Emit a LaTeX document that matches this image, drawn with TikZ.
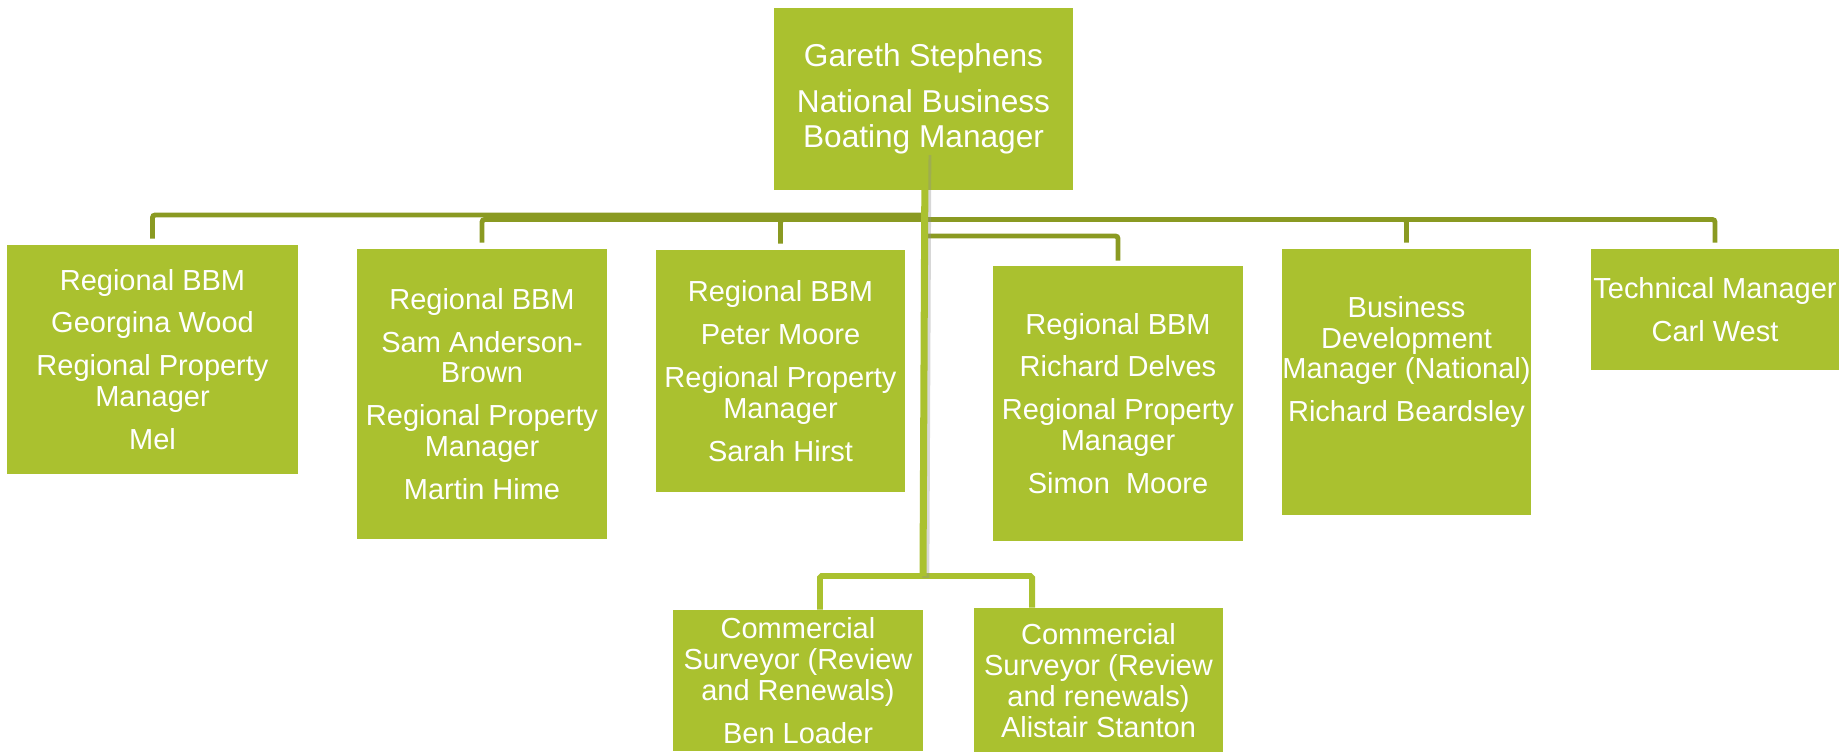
\documentclass[tikz,border=0pt]{standalone}
\usepackage{fontspec}
\setmainfont{Liberation Sans}
\usetikzlibrary{calc}
\definecolor{boxgreen}{HTML}{AAC12F}
\definecolor{bargreen}{HTML}{8A9A22}
\definecolor{shade}{HTML}{8C8C8C}
\newcommand{\boxfont}{\fontsize{16.5}{17.6}\selectfont}
\newcommand{\headfont}{\fontsize{18}{19.8}\selectfont}
\tikzset{
  box/.style={fill=boxgreen, text=white, align=center, inner sep=0pt, font=\boxfont},
  boxtext/.style={text=white, align=center, inner sep=0pt, font=\boxfont},
  bar/.style={draw=bargreen, line width=2.8pt, rounded corners=1.5pt},
  trunk/.style={draw=boxgreen, line width=4pt,
    preaction={draw=shade, opacity=0.35, line width=4pt, transform canvas={xshift=1.6pt, yshift=-1pt}}},
  link/.style={draw=boxgreen, line width=3.4pt, rounded corners=1pt},
}

\begin{document}
\begin{tikzpicture}[x=0.02cm, y=-0.02cm]
  \useasboundingbox (0,0) rectangle (1848,751);

  % head of the chart
  \node[box, font=\headfont, minimum width=5.98cm, minimum height=3.64cm] (head) at (923.5,99)
    {Gareth Stephens\\[6.2pt]National Business\\Boating Manager};

  % first row
  \node[box, minimum width=5.82cm, minimum height=4.58cm] (wood) at (152.5,359.5)
    {Regional BBM\\[6.8pt]Georgina Wood\\[6.8pt]Regional Property\\Manager\\[6.8pt]Mel};
  \node[box, minimum width=5.00cm, minimum height=5.80cm] (anderson) at (482,394)
    {Regional BBM\\[6.8pt]Sam Anderson-\\Brown\\[6.8pt]Regional Property\\Manager\\[6.8pt]Martin Hime};
  \node[box, minimum width=4.98cm, minimum height=4.84cm] (moore) at (780.5,371)
    {Regional BBM\\[6.8pt]Peter Moore\\[6.8pt]Regional Property\\Manager\\[6.8pt]Sarah Hirst};
  \node[box, minimum width=5.00cm, minimum height=5.50cm] (delves) at (1118,403.5)
    {Regional BBM\\[6.8pt]Richard Delves\\[6.8pt]Regional Property\\Manager\\[6.8pt]Simon\ \ Moore};
  \node[box, minimum width=4.98cm, minimum height=5.32cm] (bdm) at (1406.5,382) {};
  \node[boxtext] (bdmtext) at ($(bdm.center)+(0,-20)$)
    {Business\\Development\\Manager (National)\\[6.8pt]Richard Beardsley};
  \node[box, minimum width=4.96cm, minimum height=2.42cm] (tech) at (1715,309.5)
    {Technical Manager\\[6.8pt]Carl West};

  % surveyors
  \node[box, minimum width=5.00cm, minimum height=2.82cm] (loader) at (798,680.5)
    {Commercial\\Surveyor (Review\\and Renewals)\\[6.8pt]Ben Loader};
  \node[box, minimum width=4.98cm, minimum height=2.90cm] (stanton) at (1098.5,680.5)
    {Commercial\\Surveyor (Review\\and renewals)\\Alistair Stanton};

  % bars to the first row
  \coordinate (busA) at (923,215);
  \coordinate (busB) at (923,219.5);
  \coordinate (busC) at (923,236);
  \coordinate (hub) at (923,576);
  \draw[bar] (busA) -| ($(wood.north)+(0,-6)$);
  \foreach \n in {anderson,moore,bdm,tech}
    \draw[bar] (busB) -| ($(\n.north)+(0,-6)$);
  \draw[bar] (busC) -| ($(delves.north)+(0,-5)$);

  % trunk down to the surveyors
  \draw[link] ($(loader.north)+(22,0)$) |- (hub) -| ($(stanton.north)+(-66.5,0)$);
  \draw[trunk] ($(head.south)+(1.5,-37)$) -- (hub);
\end{tikzpicture}
\end{document}
